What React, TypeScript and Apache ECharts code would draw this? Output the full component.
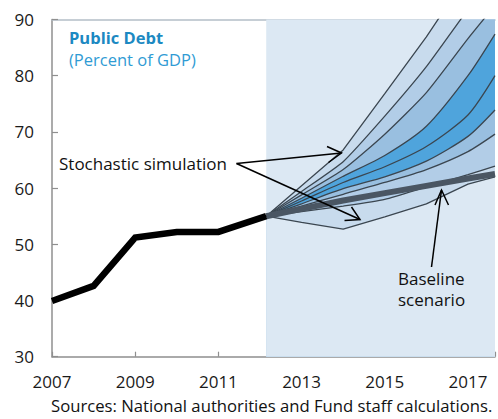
import React, { useEffect, useRef } from "react";
import * as echarts from "echarts";

// Historical public debt (percent of GDP)
const histYears = [2007, 2008, 2009, 2010, 2011, 2012.15];
const histDebt = [39.9, 42.6, 51.2, 52.2, 52.2, 55.0];

// Projection years (fan starts at the end of history)
const fanYears = [2012.15, 2013, 2014, 2015, 2016, 2017, 2017.65];
const baseline = [55.0, 56.3, 57.8, 59.1, 60.4, 61.7, 62.5];

// Stochastic simulation percentiles (lowest to highest)
const p10 = [55.0, 53.9, 52.7, 54.9, 57.2, 60.7, 62.0];
const p20 = [55.0, 55.8, 56.8, 58.0, 60.2, 62.4, 63.9];
const p30 = [55.0, 56.8, 58.9, 61.0, 63.3, 66.5, 69.6];
const p40 = [55.0, 57.2, 59.9, 62.0, 64.8, 69.2, 73.9];
const p50 = [55.0, 57.7, 61.0, 63.8, 67.4, 73.0, 80.0];
const p60 = [55.0, 58.2, 62.1, 65.8, 71.0, 80.0, 87.4];
const p70 = [55.0, 58.8, 63.3, 69.6, 77.0, 86.6, 92.5];
const p80 = [55.0, 59.4, 64.7, 72.8, 81.6, 91.8, 98.0];
const p90 = [55.0, 60.4, 66.8, 76.8, 86.9, 98.0, 105.0];

const percentiles = [p10, p20, p30, p40, p50, p60, p70, p80, p90];
// fill colour below each percentile line (down to the next lower line)
const fillBelow = ["#dce8f3", "#c8dbed", "#b2cde7", "#99bfe0", "#4fa4dc", "#4fa4dc", "#99bfe0", "#b2cde7", "#c8dbed"];
const smoothing = [0, 0.2, 0.25, 0.25, 0.25, 0.25, 0.2, 0.15, 0];

const xMin = 2007;
const xMax = 2017.65;
const yTicks = [30, 40, 50, 60, 70, 80, 90];

const FONT = "Open Sans";
const LINE_COLOR = "#3b4650";
const AXIS_COLOR = "#8f8f8f";

export default function App() {
  const ref = useRef<HTMLDivElement>(null);

  useEffect(() => {
    if (!ref.current) return;
    const chart = echarts.init(ref.current, undefined, { renderer: "svg" });

    const areaSeries: any[] = [];
    const lineSeries: any[] = [];
    // highest percentile first (lowest z), each lower one painted over it
    for (let k = percentiles.length - 1; k >= 0; k--) {
      const vals = percentiles[k];
      areaSeries.push({
        name: "area" + k,
        type: "line",
        z: 2 + (percentiles.length - k) * 0.01,
        symbol: "none",
        silent: true,
        smooth: smoothing[k],
        lineStyle: { width: 0, opacity: 0 },
        areaStyle: { color: fillBelow[k], opacity: 1, origin: "start" },
        data: fanYears.map((x, i) => [x, vals[i]]),
      });
      lineSeries.push({
        name: "p" + (k + 1) * 10,
        type: "line",
        z: 3,
        symbol: "none",
        smooth: smoothing[k],
        lineStyle: { color: LINE_COLOR, width: 1.3 },
        data: fanYears.map((x, i) => [x, vals[i]]),
      });
    }

    const arrowStyle = { stroke: "#000", lineWidth: 1.5, fill: null };

    const option: any = {
      animation: false,
      textStyle: { fontFamily: FONT },
      grid: { left: 52, right: 0, top: 19.5, bottom: 62.3, containLabel: false },
      xAxis: [
        {
          type: "value",
          min: xMin,
          max: xMax,
          interval: 2,
          axisLine: { show: true, lineStyle: { color: AXIS_COLOR, width: 1.5 } },
          axisTick: { show: true, inside: true, length: 5, lineStyle: { color: AXIS_COLOR, width: 1.2 } },
          axisLabel: {
            fontFamily: FONT,
            fontSize: 17,
            color: "#1a1a1a",
            margin: 16,
            formatter: (v: number) => {
              const r = Math.round(v);
              return Math.abs(v - r) < 1e-6 && (r - 2007) % 2 === 0 ? String(r) : "";
            },
          },
          splitLine: { show: false },
        },
        {
          type: "value",
          position: "top",
          min: xMin,
          max: xMax,
          axisLine: { show: true, lineStyle: { color: "#b4bec8", width: 1.5 } },
          axisTick: { show: false },
          axisLabel: { show: false },
          splitLine: { show: false },
        },
      ],
      yAxis: {
        type: "value",
        min: yTicks[0],
        max: yTicks[yTicks.length - 1],
        interval: 10,
        axisLine: { show: true, lineStyle: { color: AXIS_COLOR, width: 1.5 } },
        axisTick: { show: true, inside: true, length: 6, lineStyle: { color: AXIS_COLOR, width: 1.2 } },
        axisLabel: { fontFamily: FONT, fontSize: 17, color: "#1a1a1a", margin: 18 },
        splitLine: { show: false },
      },
      series: [
        {
          name: "shade",
          type: "line",
          z: 1,
          data: [],
          silent: true,
          markArea: {
            silent: true,
            itemStyle: { color: "#dce8f3", borderWidth: 0 },
            data: [[{ xAxis: fanYears[0] }, { xAxis: xMax }]],
          },
        },
        ...areaSeries,
        ...lineSeries,
        {
          name: "Baseline",
          type: "line",
          z: 5,
          symbol: "none",
          lineStyle: { color: "#4a5663", width: 6 },
          data: fanYears.map((x, i) => [x, baseline[i]]),
        },
        {
          name: "History",
          type: "line",
          z: 6,
          symbol: "none",
          lineStyle: { color: "#000", width: 6.5, join: "miter" },
          data: histYears.map((x, i) => [x, histDebt[i]]),
        },
      ],
      graphic: [
        {
          type: "text",
          left: 69,
          top: 29,
          z: 10,
          style: { text: "Public Debt", fontFamily: FONT, fontSize: 16.5, fontWeight: "bold", fill: "#1c89c2" },
        },
        {
          type: "text",
          left: 69,
          top: 51,
          z: 10,
          style: { text: "(Percent of GDP)", fontFamily: FONT, fontSize: 16.5, fill: "#2f9bd4" },
        },
        {
          type: "text",
          left: 59,
          top: 155,
          z: 10,
          style: { text: "Stochastic simulation", fontFamily: FONT, fontSize: 17, fill: "#111" },
        },
        {
          type: "text",
          left: 398,
          top: 268,
          z: 10,
          style: { text: "Baseline\nscenario", fontFamily: FONT, fontSize: 17, lineHeight: 21, fill: "#111" },
        },
        {
          type: "text",
          left: 51,
          top: 397,
          z: 10,
          style: {
            text: "Sources: National authorities and Fund staff calculations.",
            fontFamily: FONT,
            fontSize: 16.7,
            fill: "#111",
          },
        },
        // arrows
        { type: "line", z: 10, shape: { x1: 236.5, y1: 163.5, x2: 341.5, y2: 153 }, style: arrowStyle },
        { type: "polyline", z: 10, shape: { points: [[327, 146.5], [341.5, 153], [328.5, 162.5]] }, style: arrowStyle },
        { type: "line", z: 10, shape: { x1: 236.5, y1: 163.5, x2: 360, y2: 219.5 }, style: arrowStyle },
        { type: "polyline", z: 10, shape: { points: [[351.5, 207], [360, 219.5], [344.5, 220.5]] }, style: arrowStyle },
        { type: "line", z: 10, shape: { x1: 431.5, y1: 267, x2: 441.5, y2: 190 }, style: arrowStyle },
        { type: "polyline", z: 10, shape: { points: [[435, 205], [441.5, 190], [448.5, 205]] }, style: arrowStyle },
      ],
    };

    chart.setOption(option);
    return () => chart.dispose();
  }, []);

  return (
    <div
      ref={ref}
      style={{ position: "fixed", left: 0, top: 0, width: 498, height: 419, background: "#fff" }}
    />
  );
}
